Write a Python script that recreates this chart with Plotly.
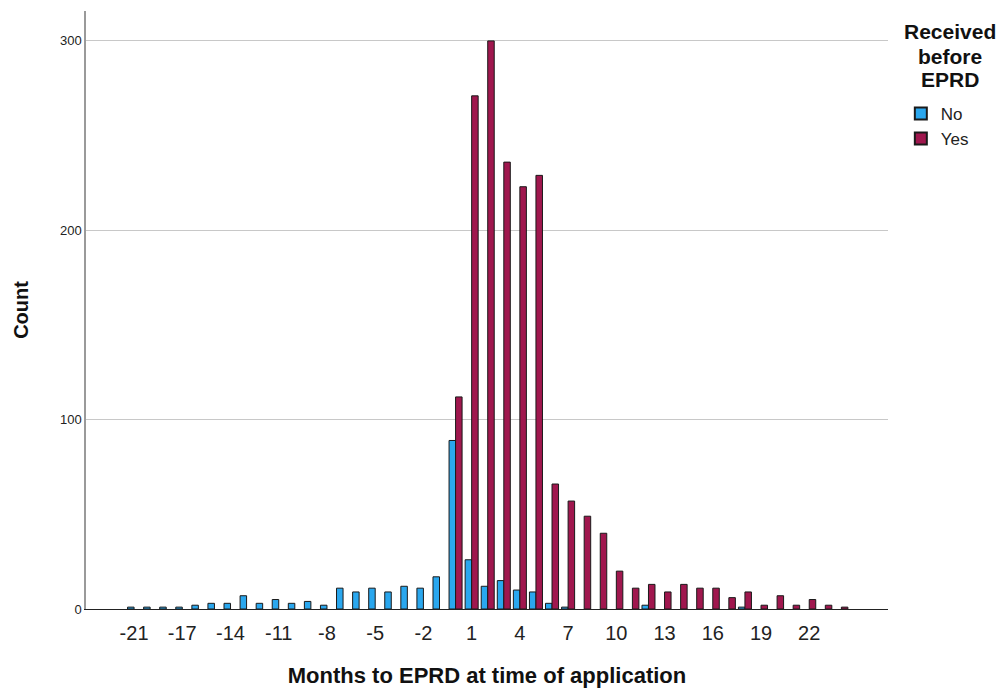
import plotly.graph_objects as go

months = [-21, -20, -18, -17, -16, -15, -14, -13, -12, -11, -10, -9, -8, -7, -6, -5, -4, -3, -2, -1,
          0, 1, 2, 3, 4, 5, 6, 7, 8, 9, 10, 11, 12, 13, 14, 15, 16, 17, 18, 19, 20, 21, 22, 23, 24]
no_counts = [1, 1, 1, 1, 2, 3, 3, 7, 3, 5, 3, 4, 2, 11, 9, 11, 9, 12, 11, 17,
             89, 26, 12, 15, 10, 9, 3, 1, 0, 0, 0, 0, 2, 0, 0, 0, 0, 0, 1, 0, 0, 0, 0, 0, 0]
yes_counts = [0, 0, 0, 0, 0, 0, 0, 0, 0, 0, 0, 0, 0, 0, 0, 0, 0, 0, 0, 0,
              112, 271, 300, 236, 223, 229, 66, 57, 49, 40, 20, 11, 13, 9, 13, 11, 11, 6, 9, 2, 7, 2, 5, 2, 1]
series_names = ["No", "Yes"]
colors = ["#2AA7EE", "#A0174E"]
y_ticks = [0, 100, 200, 300]
legend_title_lines = ["Received", "before", "EPRD"]

cats = [str(m) for m in months]
tick_cats = cats[::3]

fig = go.Figure()
for name, vals, col in zip(series_names, [no_counts, yes_counts], colors):
    fig.add_trace(go.Bar(
        x=cats, y=[v if v > 0 else None for v in vals], name=name,
        marker=dict(color=col, line=dict(color="#1a1a1a", width=1)),
    ))


def py(p):
    return 1 - (p - 11) / 598.0


annotations = []
for line, ypix in zip(legend_title_lines, [32, 56, 79]):
    annotations.append(dict(
        text="<b>%s</b>" % line, xref="paper", yref="paper",
        x=1.0773, y=py(ypix), xanchor="center", yanchor="middle", align="center",
        showarrow=False, font=dict(size=21, color="#111"),
    ))

fig.update_layout(
    width=1002, height=690,
    margin=dict(l=86, r=114, t=11, b=81),
    paper_bgcolor="white", plot_bgcolor="white",
    barmode="group", bargap=0.19, bargroupgap=0.0,
    font=dict(family="Liberation Sans, Arial, sans-serif", color="#222"),
    showlegend=True,
    legend=dict(x=1.016, y=0.858, xanchor="left", yanchor="top",
                font=dict(size=17, color="#222"), tracegroupgap=0,
                itemsizing="constant", bgcolor="rgba(0,0,0,0)"),
    xaxis=dict(
        type="category", categoryorder="array", categoryarray=cats,
        range=[-2.99, 46.9], automargin=False,
        tickmode="array", tickvals=tick_cats, ticktext=tick_cats,
        tickfont=dict(size=20, color="#222"), ticklabelstandoff=6,
        showgrid=False, showline=True, linecolor="#222", linewidth=1,
        ticks="", zeroline=False,
        title=dict(text="<b>Months to EPRD at time of application</b>",
                   font=dict(size=22, color="#111"), standoff=24),
    ),
    yaxis=dict(
        range=[0, 315.8], automargin=False,
        tickmode="array", tickvals=y_ticks,
        tickfont=dict(size=13, color="#222"),
        showgrid=True, gridcolor="#C8C8C8", gridwidth=1.3,
        showline=True, linecolor="#9a9a9a", linewidth=1.5,
        ticks="", zeroline=False,
        title=dict(text="<b>Count</b>", font=dict(size=20, color="#111"), standoff=26),
    ),
    annotations=annotations,
)

fig.write_html("out.html")
